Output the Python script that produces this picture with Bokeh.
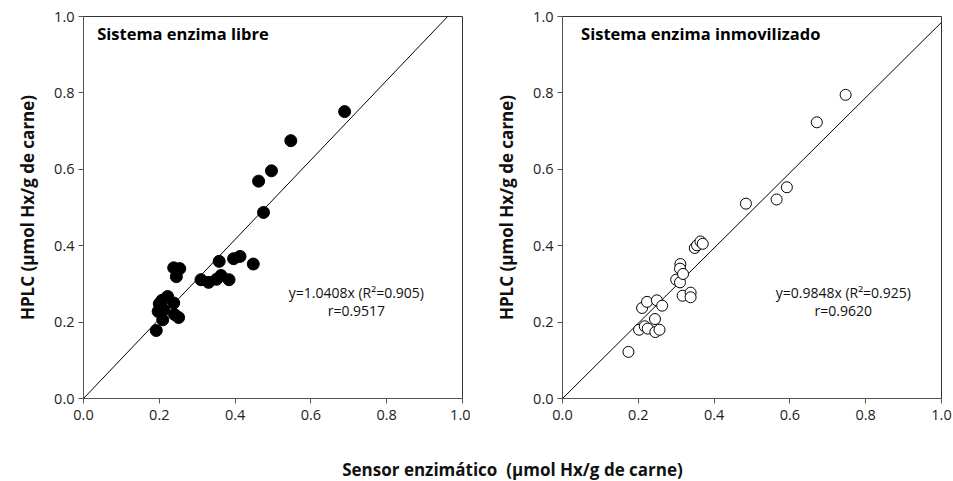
from bokeh.plotting import figure
from bokeh.layouts import row, column
from bokeh.models import FixedTicker, PrintfTickFormatter, Range1d, ColumnDataSource
from bokeh.core.properties import value
from bokeh.embed import file_html
from bokeh.resources import INLINE

# ---- data ----
libre_x = [0.689, 0.547, 0.496, 0.462, 0.475, 0.358, 0.396, 0.413, 0.448, 0.238,
           0.254, 0.245, 0.310, 0.330, 0.351, 0.363, 0.384, 0.222, 0.207, 0.238,
           0.200, 0.197, 0.212, 0.209, 0.240, 0.251, 0.192]
libre_y = [0.751, 0.675, 0.596, 0.569, 0.487, 0.359, 0.366, 0.372, 0.352, 0.342,
           0.340, 0.319, 0.311, 0.304, 0.312, 0.322, 0.311, 0.267, 0.257, 0.250,
           0.248, 0.228, 0.232, 0.206, 0.220, 0.212, 0.178]
inmov_x = [0.174, 0.202, 0.217, 0.225, 0.244, 0.245, 0.256, 0.210, 0.223, 0.249,
           0.263, 0.300, 0.310, 0.311, 0.310, 0.318, 0.317, 0.338, 0.338, 0.349,
           0.355, 0.364, 0.370, 0.484, 0.565, 0.592, 0.671, 0.747]
inmov_y = [0.122, 0.180, 0.189, 0.183, 0.208, 0.174, 0.180, 0.237, 0.253, 0.257,
           0.243, 0.311, 0.304, 0.352, 0.340, 0.326, 0.269, 0.277, 0.265, 0.394,
           0.401, 0.411, 0.405, 0.510, 0.521, 0.553, 0.723, 0.795]
slope_libre = 1.0408
slope_inmov = 0.9848
titles = ["Sistema enzima libre", "Sistema enzima inmovilizado"]
eq_texts = [["y=1.0408x (R\u00b2=0.905)", "r=0.9517"],
            ["y=0.9848x (R\u00b2=0.925)", "r=0.9620"]]
ticks = [0.0, 0.2, 0.4, 0.6, 0.8, 1.0]
ylabel = "HPLC (\u00b5mol Hx/g de carne)"
xlabel = "Sensor enzim\u00e1tico\u00a0 (\u00b5mol Hx/g de carne)"

FONT = "Open Sans"

def make_panel(xs, ys, slope, title, title_x, eqs, eq_x, filled, width, border_left, border_right):
    p = figure(width=width, height=425, output_backend="svg", toolbar_location=None,
               x_range=Range1d(0, 1), y_range=Range1d(0, 1),
               min_border_left=border_left, min_border_right=border_right,
               min_border_top=16, min_border_bottom=27)
    p.grid.visible = False
    p.outline_line_color = "#333333"
    p.outline_line_width = 1
    for ax in (p.xaxis[0], p.yaxis[0]):
        ax.ticker = FixedTicker(ticks=ticks)
        ax.formatter = PrintfTickFormatter(format="%.1f")
        ax.major_tick_out = 5
        ax.major_tick_in = 0
        ax.minor_tick_line_color = None
        ax.axis_line_color = "#555555"
        ax.major_tick_line_color = "#555555"
        ax.major_label_text_font = FONT
        ax.major_label_text_font_size = "14.5px"
        ax.major_label_text_color = "#222222"
    p.xaxis.major_label_standoff = 6
    p.yaxis.major_label_standoff = 4
    p.yaxis.axis_label = ylabel
    p.yaxis.axis_label_text_font = FONT
    p.yaxis.axis_label_text_font_style = "bold"
    p.yaxis.axis_label_text_font_size = "17px"
    p.yaxis.axis_label_text_color = "#111111"
    p.yaxis.axis_label_standoff = 12

    xend = min(1.0, 1.0 / slope)
    p.line([0, xend], [0, slope * xend], line_color="black", line_width=1)

    src = ColumnDataSource(dict(x=xs, y=ys))
    if filled:
        p.scatter("x", "y", source=src, size=12, fill_color="black", line_color="black")
    else:
        p.scatter("x", "y", source=src, size=11, fill_color="white", line_color="black",
                  line_width=1)

    p.text(x=[title_x], y=[0.956], text=[title], text_font=value(FONT),
           text_font_style="bold", text_font_size="16.5px", text_align="left",
           text_baseline="middle", text_color="black")
    p.text(x=[eq_x, eq_x], y=[0.278, 0.230], text=eqs, text_font=value(FONT),
           text_font_size="14px", text_align="center", text_baseline="middle",
           text_color="#111111")
    return p

p1 = make_panel(libre_x, libre_y, slope_libre, titles[0], 0.036, eq_texts[0], 0.72,
                True, 470, 83, 8)
p2 = make_panel(inmov_x, inmov_y, slope_inmov, titles[1], 0.049, eq_texts[1], 0.741,
                False, 483, 92, 12)

pl = figure(width=953, height=56, output_backend="svg", toolbar_location=None,
            x_range=Range1d(0, 953), y_range=Range1d(56, 0),
            min_border=0)
pl.axis.visible = False
pl.grid.visible = False
pl.outline_line_color = None
pl.text(x=[512], y=[44], text=[xlabel], text_font=value(FONT), text_font_style="bold",
        text_font_size="17px", text_align="center", text_baseline="middle",
        text_color="#111111")

layout = column(row(p1, p2), pl)
open("out.html", "w").write(file_html(layout, INLINE))
